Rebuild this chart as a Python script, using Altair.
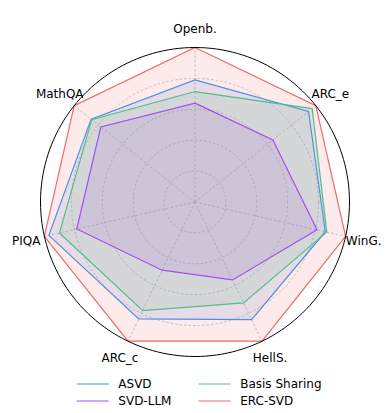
import altair as alt
import pandas as pd

categories = ["Openb.", "ARC_e", "WinG.", "HellS.", "ARC_c", "PIQA", "MathQA"]
series_names = ["ASVD", "SVD-LLM", "Basis Sharing", "ERC-SVD"]
asvd = [0.79, 0.94, 0.865, 0.845, 0.84, 0.97, 0.86]
svd_llm = [0.64, 0.645, 0.81, 0.56, 0.49, 0.785, 0.78]
basis_sharing = [0.715, 0.97, 0.875, 0.725, 0.78, 0.90, 0.855]
erc_svd = [1.0, 1.0, 1.0, 1.0, 1.0, 1.0, 1.0]
grid_levels = [0.2, 0.4, 0.6, 0.8]
outer_level = 1.0
series_colors = ["#4f8fe3", "#a24ff2", "#4dbf8c", "#f06a6a"]

rows = []
for name, vals in zip(series_names, [asvd, svd_llm, basis_sharing, erc_svd]):
    for i, (c, v) in enumerate(zip(categories, vals)):
        rows.append({"series": name, "axis": c, "idx": i, "value": v})
df = pd.DataFrame(rows)
cat_df = pd.DataFrame({"axis": categories, "idx": list(range(len(categories)))})
N = len(categories)
ang = f"PI/2 - datum.idx*2*PI/{N}"

xs = alt.Scale(domain=[-1.2104, 1.2039], nice=False, zero=False)
ys = alt.Scale(domain=[-1.3139, 1.2557], nice=False, zero=False)


def ring(level, **kw):
    return alt.Chart(alt.sequence(0, 360, 2, as_="deg")).transform_calculate(
        rx=f"{level}*cos(datum.deg*PI/180)", ry=f"{level}*sin(datum.deg*PI/180)"
    ).mark_line(interpolate="linear-closed", **kw).encode(
        x=alt.X("rx:Q", scale=xs, axis=None),
        y=alt.Y("ry:Q", scale=ys, axis=None),
        order="deg:Q",
    )


rings = [ring(l, color="#bdbdbd", strokeWidth=0.8, strokeDash=[2.5, 2]) for l in grid_levels]

spokes = alt.Chart(cat_df).transform_calculate(theta=ang).transform_calculate(
    x0="0", y0="0", x1=f"{outer_level}*cos(datum.theta)", y1=f"{outer_level}*sin(datum.theta)"
).mark_rule(color="#bdbdbd", strokeWidth=0.8, strokeDash=[2.5, 2]).encode(
    x=alt.X("x0:Q", scale=xs, axis=None),
    y=alt.Y("y0:Q", scale=ys, axis=None),
    x2="x1:Q",
    y2="y1:Q",
)

poly_base = alt.Chart(df).transform_calculate(theta=ang).transform_calculate(
    px="datum.value*cos(datum.theta)", py="datum.value*sin(datum.theta)",
)

poly_fill = poly_base.mark_line(
    interpolate="linear-closed", strokeOpacity=0, fillOpacity=0.14
).encode(
    x=alt.X("px:Q", scale=xs, axis=None),
    y=alt.Y("py:Q", scale=ys, axis=None),
    order="idx:Q",
    fill=alt.Fill("series:N", scale=alt.Scale(domain=series_names, range=series_colors), legend=None),
)

poly_line = poly_base.mark_line(interpolate="linear-closed", strokeWidth=1.2).encode(
    x=alt.X("px:Q", scale=xs, axis=None),
    y=alt.Y("py:Q", scale=ys, axis=None),
    order="idx:Q",
    color=alt.Color(
        "series:N",
        scale=alt.Scale(domain=series_names, range=series_colors),
        legend=alt.Legend(
            title=None, orient="none", legendX=75.7, legendY=367, columns=2,
            symbolType="M-2,0H2", symbolSize=256, symbolStrokeWidth=1.2,
            labelFontSize=12, labelFont="DejaVu Sans", labelColor="black",
            labelOffset=16.6, columnPadding=23.9, rowPadding=2,
        ),
    ),
)

outer = ring(outer_level, color="black", strokeWidth=1.0)

labels = alt.Chart(cat_df).transform_calculate(theta=ang).transform_calculate(
    lx="1.12*cos(datum.theta)", ly="1.12*sin(datum.theta)"
).mark_text(fontSize=12, font="DejaVu Sans", color="black", align="center", baseline="middle").encode(
    x=alt.X("lx:Q", scale=xs, axis=None),
    y=alt.Y("ly:Q", scale=ys, axis=None),
    text="axis:N",
)

chart = alt.layer(*rings, spokes, poly_fill, poly_line, outer, labels).resolve_scale(
    fill="independent"
).properties(
    width=373, height=397,
    padding={"left": 0, "top": 0, "right": 0, "bottom": 7},
    autosize=alt.AutoSizeParams(type="none"),
).configure_view(stroke=None)

chart.save("out.html", embed_options={"renderer": "svg", "actions": False})
